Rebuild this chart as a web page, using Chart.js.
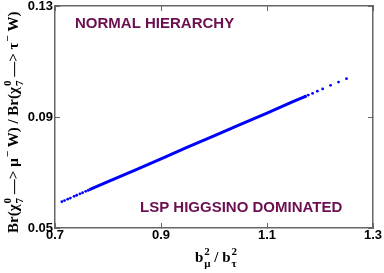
<!DOCTYPE html>
<html>
<head>
  <script src="https://cdn.jsdelivr.net/npm/chart.js@4"></script>
  <style>
    body { margin: 0; background: #fff; }
  </style>
</head>
<body>
  <canvas id="myChart" width="384" height="273"></canvas>
  <script>
    const xTicks = [0.7, 0.9, 1.1, 1.3];
    const yTicks = [0.05, 0.09, 0.13];

    // dense middle of the band, reads as a solid thick line
    const bandX = [0.765, 0.80, 0.85, 0.90, 0.95, 1.00, 1.05, 1.10, 1.15, 1.175];
    const bandY = [0.0638, 0.0667, 0.0708, 0.0749, 0.0791, 0.0832, 0.0873, 0.0914, 0.0956, 0.0976];

    // loose dots at both ends
    const dotX = [0.713, 0.718, 0.724, 0.729, 0.736, 0.741, 0.747, 0.752, 0.758, 0.763,
                  1.172, 1.178, 1.186, 1.195, 1.205, 1.220, 1.235, 1.250];
    const dotY = [0.0595, 0.0599, 0.0604, 0.0608, 0.0614, 0.0618, 0.0623, 0.0627, 0.0632, 0.0636,
                  0.0974, 0.0979, 0.0985, 0.0993, 0.1001, 0.1014, 0.1026, 0.1038];

    const blue = '#0000ff';
    const maroon = '#6b0f4f';
    const frame = '#666';
    const sans = '"Liberation Sans", Arial, sans-serif';
    const serif = '"Liberation Serif", "Times New Roman", serif';

    function richWidth(ctx, parts, big, small) {
      let w = 0;
      parts.forEach(p => {
        ctx.font = big;
        w += ctx.measureText(p.t).width;
        ctx.font = small;
        w += Math.max(p.sup ? ctx.measureText(p.sup).width : 0, p.sub ? ctx.measureText(p.sub).width : 0);
      });
      return w;
    }

    function drawRich(ctx, parts, x, y, big, small) {
      let cx = x;
      parts.forEach(p => {
        ctx.font = big;
        ctx.fillText(p.t, cx, y);
        cx += ctx.measureText(p.t).width;
        ctx.font = small;
        let adv = 0;
        if (p.sup) { ctx.fillText(p.sup, cx + 1, y - 7); adv = ctx.measureText(p.sup).width + 1; }
        if (p.sub) { ctx.fillText(p.sub, cx + 1, y + 5); adv = Math.max(adv, ctx.measureText(p.sub).width + 1); }
        cx += adv;
      });
    }

    const xTitle = [{ t: 'b', sup: '2', sub: 'μ' }, { t: ' / b', sup: '2', sub: 'τ' }];
    const yTitle = [
      { t: 'Br(χ', sup: '0', sub: '7' },
      { t: ' —> μ', sup: '−' },
      { t: ' W) / Br(χ', sup: '0', sub: '7' },
      { t: ' —> τ', sup: '−' },
      { t: ' W)' }
    ];

    const textPlugin = {
      id: 'texts',
      afterDraw(chart) {
        const ctx = chart.ctx;
        const area = chart.chartArea;
        ctx.save();
        ctx.textBaseline = 'alphabetic';
        ctx.textAlign = 'left';

        // in-plot labels
        ctx.fillStyle = maroon;
        ctx.font = 'bold 15px ' + sans;
        ctx.fillText('NORMAL HIERARCHY', area.left + 20, area.top + 22);
        ctx.fillText('LSP HIGGSINO DOMINATED', area.left + 85, area.bottom - 16);

        // axis titles
        ctx.fillStyle = '#000';
        const big = 'bold 15px ' + serif;
        const small = 'bold 11px ' + serif;
        const xw = richWidth(ctx, xTitle, big, small);
        drawRich(ctx, xTitle, 215 - xw / 2, 262, big, small);

        ctx.translate(18, 233);
        ctx.rotate(-Math.PI / 2);
        drawRich(ctx, yTitle, 0, 0, big, small);
        ctx.restore();
      }
    };

    const tickFont = { family: sans, size: 13, weight: 'bold' };

    // no extra room for end labels, the frame sits at fixed place
    function noPad(s) {
      s.paddingTop = 0; s.paddingBottom = 0; s.paddingLeft = 0; s.paddingRight = 0;
    }

    function axis(pos, values, extra) {
      return Object.assign({
        type: 'linear',
        position: pos,
        afterBuildTicks: s => { s.ticks = values.map(v => ({ value: v })); },
        grid: { drawOnChartArea: false, tickLength: -5, color: frame, lineWidth: 1 },
        border: { color: frame, width: 1.5 }
      }, extra);
    }

    new Chart(document.getElementById('myChart').getContext('2d'), {
      type: 'scatter',
      data: {
        datasets: [
          {
            data: bandX.map((x, i) => ({ x: x, y: bandY[i] })),
            showLine: true,
            borderColor: blue,
            borderWidth: 3,
            pointRadius: 0
          },
          {
            data: dotX.map((x, i) => ({ x: x, y: dotY[i] })),
            backgroundColor: blue,
            borderWidth: 0,
            pointRadius: 1.4
          }
        ]
      },
      options: {
        responsive: false,
        animation: false,
        devicePixelRatio: 1,
        layout: { padding: { left: 0, top: 6, right: 11, bottom: 0 } },
        plugins: { legend: { display: false }, tooltip: { enabled: false } },
        scales: {
          x: axis('bottom', xTicks, {
            min: 0.7, max: 1.3,
            ticks: { callback: v => v.toFixed(1), font: tickFont, color: '#000', padding: 5, autoSkip: false, maxRotation: 0 },
            afterFit: s => { s.height = 45; noPad(s); }
          }),
          y: axis('left', yTicks, {
            min: 0.05, max: 0.13,
            ticks: { callback: v => v.toFixed(2), font: tickFont, color: '#000', padding: 7, autoSkip: false },
            afterFit: s => { s.width = 55; noPad(s); }
          }),
          x2: axis('top', xTicks, {
            min: 0.7, max: 1.3,
            ticks: { display: false },
            afterFit: s => { s.height = 0; noPad(s); }
          }),
          y2: axis('right', yTicks, {
            min: 0.05, max: 0.13,
            ticks: { display: false },
            afterFit: s => { s.width = 0; noPad(s); }
          })
        }
      },
      plugins: [textPlugin]
    });
  </script>
</body>
</html>
